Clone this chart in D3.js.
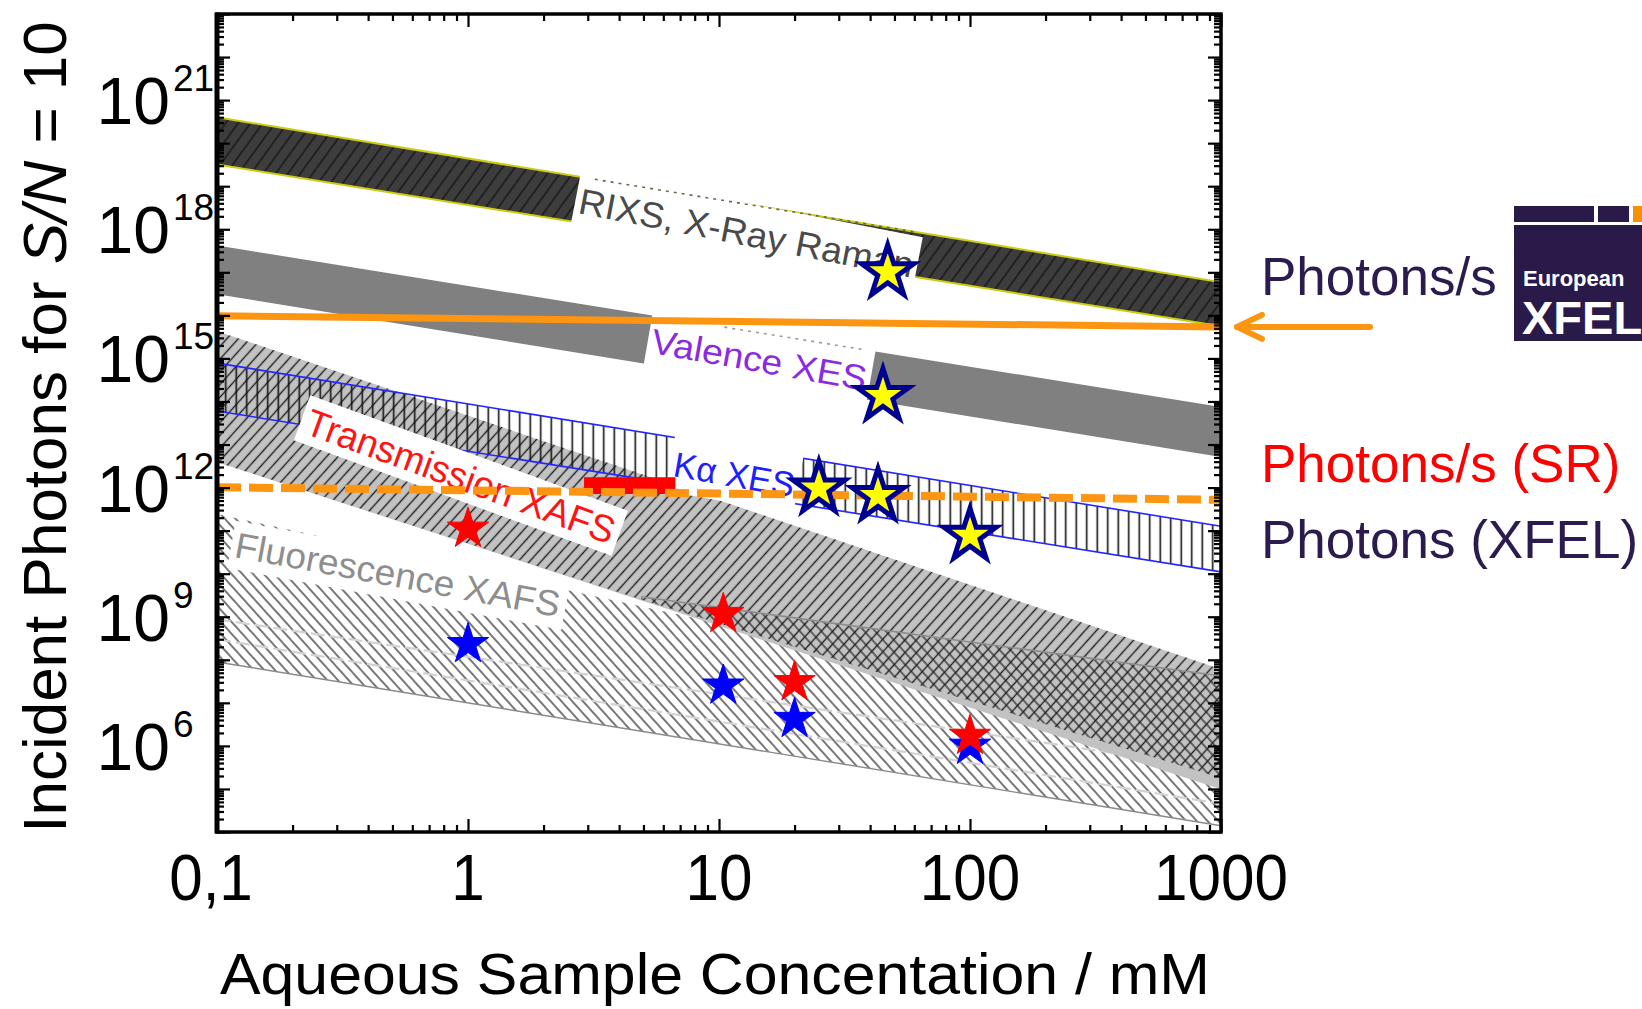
<!DOCTYPE html>
<html><head><meta charset="utf-8">
<script src="https://cdn.jsdelivr.net/npm/d3@7"></script>
<style>
html,body{margin:0;padding:0;background:#fff;}
svg{display:block;font-family:"Liberation Sans",Arial,Helvetica,sans-serif;}
</style></head><body>
<svg id="chart" width="1642" height="1009"></svg>
<script>
// ---------- data: concentration (mM) and photon counts ----------
const xTickValues = [0.1, 1, 10, 100, 1000];
const xTickLabels = ["0,1", "1", "10", "100", "1000"];
const yLabelExponents = [6, 9, 12, 15, 18, 21];

// band edges given at the two ends of the concentration range
const edgeConc = [0.1, 1000];
const rixsUpper = [4.0e20, 5.9e16];
const rixsLower = [3.2e19, 5.6e15];
const valenceUpper = [4.2e17, 7.4e13];
const valenceLower = [3.1e16, 5.1e12];
const kaUpper = [7.8e14, 1.26e11];
const kaLower = [6.0e13, 1.1e10];
const transUpper = [4.3e15, 6.0e7];
const transLower = [3.9e12, 9.8e4];
const transHatchConc = [0.1, 4.9, 1000];
const transHatchLower = [3.9e12, 2.5e9, 1.8e5];
const overlapUpperConc = [4.9, 100, 1000];
const overlapUpper = [2.9e9, 2.6e8, 4.2e7];
const overlapLowerConc = [4.9, 1000];
const overlapLower = [2.5e9, 1.8e5];
const fluoUpper = [2.45e11, 2.0e6];
const fluoLower = [8.9e7, 1.4e4];
const fluoGuideA = [8.7e8, 2.9e5];
const fluoGuideB = [3.0e8, 4.5e4];

// source flux levels
const xfelRateLine = [9.8e15, 5.4e15];
const srRateLine = [1.02e12, 5.2e11];
const srBarConc = [2.9, 6.7];
const srBarPhotons = [7.1e11, 1.74e12];

// measurements
const xfelStarConc = [47, 45, 25, 43, 100];
const xfelStarPhotons = [1.0e17, 1.35e14, 9.5e11, 6.4e11, 7.6e10];
const srStarConc = [1, 10.4, 20, 100];
const srStarPhotons = [1.1e11, 1.15e9, 3.0e7, 1.7e6];
const fluoStarConc = [1, 10.4, 20, 100];
const fluoStarPhotons = [2.3e8, 2.5e7, 4.2e6, 1.0e6];

// band labels, anchored at the start of their baseline
const bandLabels = ["RIXS, X-Ray Raman", "Valence XES", "Kα XES", "Transmission XAFS", "Fluorescence XAFS"];
const labelConc = [2.72, 5.3, 6.5, 0.22, 0.116];
const labelPhotons = [2.4e18, 1.35e15, 1.86e12, 1.86e13, 2.45e10];
const rixsGapConc = [3.2, 61];
const valenceGapConc = [10.5, 37];

// ---------- scales ----------
const W = 1642, H = 1009;
const plotL = 217, plotR = 1221, plotT = 14, plotB = 832;
const x = d3.scaleLog().domain([0.1, 1000]).range([plotL, plotR]);
const y = d3.scaleLog().domain([1e4, 1e23]).range([plotB, plotT]);

const svg = d3.select("#chart");
svg.append("rect").attr("width", W).attr("height", H).attr("fill", "#fff");
const defs = svg.append("defs");
defs.append("clipPath").attr("id", "plotClip")
  .append("rect").attr("x", plotL).attr("y", plotT).attr("width", plotR - plotL).attr("height", plotB - plotT);

function hatch(id, angle, spacing, color, width, bg) {
  const p = defs.append("pattern").attr("id", id)
    .attr("patternUnits", "userSpaceOnUse")
    .attr("width", spacing).attr("height", spacing)
    .attr("patternTransform", `rotate(${angle})`);
  if (bg) p.append("rect").attr("width", spacing).attr("height", spacing).attr("fill", bg);
  p.append("line").attr("x1", spacing / 2).attr("y1", -1).attr("x2", spacing / 2).attr("y2", spacing + 1)
    .attr("stroke", color).attr("stroke-width", width);
}
hatch("hatchRixs", 36, 10, "#111", 1.3, "#3d3d3d");
hatch("hatchTrans", 42, 8.5, "#1e1e1e", 1.4, null);
hatch("hatchFluo", -42, 8, "#1e1e1e", 1.2, null);
hatch("hatchKa", 0, 10.5, "#111", 1.6, null);

function pts(cs, vs) { return cs.map((c, i) => [x(c), y(vs[i])]); }
function bandPath(cu, vu, cl, vl) {
  const p = pts(cu, vu).concat(pts(cl, vl).reverse());
  return "M" + p.map(d => d.join(",")).join("L") + "Z";
}
const line = d3.line();
function logInterp(c, cs, vs) {
  const t = (Math.log10(c) - Math.log10(cs[0])) / (Math.log10(cs[1]) - Math.log10(cs[0]));
  return Math.pow(10, Math.log10(vs[0]) + t * (Math.log10(vs[1]) - Math.log10(vs[0])));
}

const plot = svg.append("g").attr("clip-path", "url(#plotClip)");

// fluorescence XAFS band
plot.append("path").attr("d", bandPath(edgeConc, fluoUpper, edgeConc, fluoLower))
  .attr("fill", "url(#hatchFluo)");
plot.append("path").attr("d", line(pts(edgeConc, fluoLower))).attr("fill", "none")
  .attr("stroke", "#8a8a8a").attr("stroke-width", 1.4);
[fluoGuideA, fluoGuideB].forEach(g => {
  plot.append("path").attr("d", line(pts(edgeConc, g))).attr("fill", "none")
    .attr("stroke", "#d2d2d2").attr("stroke-width", 2.2).attr("stroke-dasharray", "14,5");
});

// label style: colour, rotation, font size, text length, box extent
const labelStyle = [
  { color: "#4a4a4a", angle: 11, size: 36, len: 340, top: -42, bot: 12, padL: 4, padR: 4 },
  { color: "#8a2be2", angle: 10, size: 35, len: 218, top: -46, bot: 14, padL: 4, padR: 4 },
  { color: "#2020ff", angle: 10, size: 35, len: 122, top: -44, bot: 16, padL: 4, padR: 4 },
  { color: "#ff1414", angle: 20, size: 38, len: 326, top: -38, bot: 10, padL: 6, padR: 6 },
  { color: "#8e8e8e", angle: 10.5, size: 36, len: 330, top: -36, bot: 12, padL: 4, padR: 6 }
];
function drawLabel(i) {
  const s = labelStyle[i];
  const g = plot.append("g")
    .attr("transform", `translate(${x(labelConc[i])},${y(labelPhotons[i])}) rotate(${s.angle})`);
  g.append("rect").attr("x", -s.padL).attr("y", s.top)
    .attr("width", s.len + s.padL + s.padR).attr("height", s.bot - s.top).attr("fill", "#fff");
  g.append("text").attr("x", 0).attr("y", 0).attr("font-size", s.size).attr("fill", s.color)
    .attr("textLength", s.len).attr("lengthAdjust", "spacingAndGlyphs").text(bandLabels[i]);
}
drawLabel(4);

// valence XES band
plot.append("path").attr("d", bandPath(edgeConc, valenceUpper, edgeConc, valenceLower)).attr("fill", "#808080");

// RIXS band
plot.append("path").attr("d", bandPath(edgeConc, rixsUpper, edgeConc, rixsLower)).attr("fill", "url(#hatchRixs)");
[rixsUpper, rixsLower].forEach(e => {
  plot.append("path").attr("d", line(pts(edgeConc, e))).attr("fill", "none")
    .attr("stroke", "#cccc10").attr("stroke-width", 2);
});

// transmission XAFS band
plot.append("path").attr("d", bandPath(edgeConc, transUpper, edgeConc, transLower)).attr("fill", "#c2c2c2");
const transHatchUpper = transHatchConc.map(c => logInterp(c, edgeConc, transUpper));
plot.append("path").attr("d", bandPath(transHatchConc, transHatchUpper, transHatchConc, transHatchLower))
  .attr("fill", "url(#hatchTrans)");
plot.append("path").attr("d", bandPath(overlapUpperConc, overlapUpper, overlapLowerConc, overlapLower))
  .attr("fill", "url(#hatchFluo)");
plot.append("path").attr("d", line(pts(overlapUpperConc, overlapUpper))).attr("fill", "none")
  .attr("stroke", "#8c8c8c").attr("stroke-width", 1.6);

// K-alpha XES band
plot.append("path").attr("d", bandPath(edgeConc, kaUpper, edgeConc, kaLower)).attr("fill", "url(#hatchKa)");
[kaUpper, kaLower].forEach(e => {
  plot.append("path").attr("d", line(pts(edgeConc, e))).attr("fill", "none")
    .attr("stroke", "#2424ff").attr("stroke-width", 1.6);
});

// band labels on white boxes
[0, 1, 2, 3].forEach(drawLabel);

// remnants of band edges inside the label gaps
plot.append("path")
  .attr("d", line(rixsGapConc.map(c => [x(c), y(logInterp(c, edgeConc, rixsUpper))])))
  .attr("fill", "none").attr("stroke", "#6a6a50").attr("stroke-width", 1.6).attr("stroke-dasharray", "3,5");
plot.append("path")
  .attr("d", line(valenceGapConc.map(c => [x(c), y(logInterp(c, edgeConc, valenceUpper))])))
  .attr("fill", "none").attr("stroke", "#9a9a9a").attr("stroke-width", 1.6).attr("stroke-dasharray", "3,5");

// synchrotron bar
plot.append("rect").attr("x", x(srBarConc[0])).attr("y", y(srBarPhotons[1]))
  .attr("width", x(srBarConc[1]) - x(srBarConc[0])).attr("height", y(srBarPhotons[0]) - y(srBarPhotons[1]))
  .attr("fill", "#ff0000");

// source flux lines
const orange = "#fb9512";
plot.append("path").attr("d", line(pts(edgeConc, xfelRateLine))).attr("fill", "none")
  .attr("stroke", orange).attr("stroke-width", 7);
plot.append("path").attr("d", line(pts(edgeConc, srRateLine))).attr("fill", "none")
  .attr("stroke", orange).attr("stroke-width", 8).attr("stroke-dasharray", "24,8");

// stars
const starBig = d3.symbol().type(d3.symbolStar).size(840)();
const starSmall = d3.symbol().type(d3.symbolStar).size(530)();
srStarConc.forEach((c, i) => {
  if (i === 3) return;
  plot.append("path").attr("d", starSmall).attr("transform", `translate(${x(c)},${y(srStarPhotons[i])})`)
    .attr("fill", "#ff0000").attr("stroke", "#ff0000").attr("stroke-width", 1);
});
fluoStarConc.forEach((c, i) => {
  plot.append("path").attr("d", starSmall).attr("transform", `translate(${x(c)},${y(fluoStarPhotons[i])})`)
    .attr("fill", "#0000ff").attr("stroke", "#0000ff").attr("stroke-width", 1);
});
plot.append("path").attr("d", starSmall).attr("transform", `translate(${x(srStarConc[3])},${y(srStarPhotons[3])})`)
  .attr("fill", "#ff0000").attr("stroke", "#ff0000").attr("stroke-width", 1);
xfelStarConc.forEach((c, i) => {
  plot.append("path").attr("d", starBig).attr("transform", `translate(${x(c)},${y(xfelStarPhotons[i])})`)
    .attr("fill", "#ffff00").attr("stroke", "#000090").attr("stroke-width", 5).attr("stroke-linejoin", "miter");
});

// ---------- axes ----------
const xMajor = [0.1, 1, 10, 100, 1000];
const xMinor = [];
for (let e = -1; e < 3; e++) for (let k = 2; k <= 9; k++) xMinor.push(k * Math.pow(10, e));
const yMajor = d3.range(4, 24).map(e => Math.pow(10, e));
const yMinor = [];
for (let e = 4; e < 23; e++) for (let k = 2; k <= 9; k++) yMinor.push(k * Math.pow(10, e));

function addAxis(gen, tx, ty) {
  const g = svg.append("g").attr("transform", `translate(${tx},${ty})`).call(gen);
  g.select(".domain").remove();
  g.selectAll("text").remove();
  g.selectAll("line").attr("stroke", "#000").attr("stroke-width", 2.2);
}
addAxis(d3.axisBottom(x).tickValues(xMajor).tickSize(-13).tickFormat(""), 0, plotB);
addAxis(d3.axisBottom(x).tickValues(xMinor).tickSize(-7).tickFormat(""), 0, plotB);
addAxis(d3.axisTop(x).tickValues(xMajor).tickSize(-13).tickFormat(""), 0, plotT);
addAxis(d3.axisTop(x).tickValues(xMinor).tickSize(-7).tickFormat(""), 0, plotT);
addAxis(d3.axisLeft(y).tickValues(yMajor).tickSize(-13).tickFormat(""), plotL, 0);
addAxis(d3.axisLeft(y).tickValues(yMinor).tickSize(-7).tickFormat(""), plotL, 0);
addAxis(d3.axisRight(y).tickValues(yMajor).tickSize(-13).tickFormat(""), plotR, 0);
addAxis(d3.axisRight(y).tickValues(yMinor).tickSize(-7).tickFormat(""), plotR, 0);

svg.append("rect").attr("x", plotL).attr("y", plotT).attr("width", plotR - plotL).attr("height", plotB - plotT)
  .attr("fill", "none").attr("stroke", "#000").attr("stroke-width", 3.5);
svg.append("line").attr("x1", plotL).attr("x2", plotL).attr("y1", plotT - 1.5).attr("y2", plotB + 1.5)
  .attr("stroke", "#000").attr("stroke-width", 5);

// x tick labels
xTickValues.forEach((v, i) => {
  const dx = i === 0 ? -6 : 0;
  svg.append("g").attr("transform", `translate(${x(v) + dx},900) scale(0.94,1)`)
    .append("text").attr("text-anchor", "middle").attr("font-size", 64).attr("fill", "#000")
    .text(xTickLabels[i]);
});

// y tick labels: 10^n
yLabelExponents.forEach(n => {
  const ty = y(Math.pow(10, n));
  svg.append("text").attr("x", 170).attr("y", ty + 24).attr("text-anchor", "end")
    .attr("font-size", 66).attr("fill", "#000").text("10");
  svg.append("text").attr("x", 173).attr("y", ty - 9).attr("font-size", 37).attr("fill", "#000").text(String(n));
});

// axis titles
svg.append("text").attr("x", 715).attr("y", 994).attr("text-anchor", "middle")
  .attr("font-size", 57).attr("textLength", 990).attr("lengthAdjust", "spacingAndGlyphs")
  .attr("fill", "#000").text("Aqueous Sample Concentation / mM");
const yt = svg.append("text").attr("transform", "translate(66,427) rotate(-90)")
  .attr("text-anchor", "middle").attr("font-size", 62).attr("fill", "#000");
yt.append("tspan").text("Incident Photons for ");
yt.append("tspan").attr("font-style", "italic").text("S/N");
yt.append("tspan").text(" = 10");

// ---------- side annotations ----------
const navy = "#2b1b4f";
const arrowY = y(xfelRateLine[1]);
const arrow = svg.append("g").attr("stroke", orange).attr("stroke-width", 6)
  .attr("stroke-linecap", "round").attr("fill", "none");
arrow.append("line").attr("x1", 1370).attr("y1", arrowY).attr("x2", 1237).attr("y2", arrowY);
arrow.append("path").attr("d", `M1262,${arrowY - 12}L1237,${arrowY}L1262,${arrowY + 12}`).attr("stroke-linejoin", "round");

svg.append("text").attr("x", 1261).attr("y", 295).attr("font-size", 53).attr("fill", navy).text("Photons/s");
svg.append("text").attr("x", 1261).attr("y", 482).attr("font-size", 53).attr("fill", "#ff0000").text("Photons/s (SR)");
svg.append("text").attr("x", 1261).attr("y", 558).attr("font-size", 53).attr("fill", navy).text("Photons (XFEL)");

// European XFEL logo
const logo = svg.append("g");
const logoNavy = "#2a1a4a";
logo.append("rect").attr("x", 1514).attr("y", 206).attr("width", 80).attr("height", 16).attr("fill", logoNavy);
logo.append("rect").attr("x", 1598).attr("y", 206).attr("width", 31).attr("height", 16).attr("fill", logoNavy);
logo.append("rect").attr("x", 1633).attr("y", 206).attr("width", 12).attr("height", 16).attr("fill", "#f39200");
logo.append("rect").attr("x", 1514).attr("y", 225).attr("width", 130).attr("height", 116).attr("fill", logoNavy);
logo.append("text").attr("x", 1523).attr("y", 286).attr("font-size", 22).attr("font-weight", "bold")
  .attr("fill", "#fff").text("European");
logo.append("text").attr("x", 1522).attr("y", 334).attr("font-size", 47).attr("font-weight", "bold")
  .attr("fill", "#fff").text("XFEL");
</script>
</body></html>
